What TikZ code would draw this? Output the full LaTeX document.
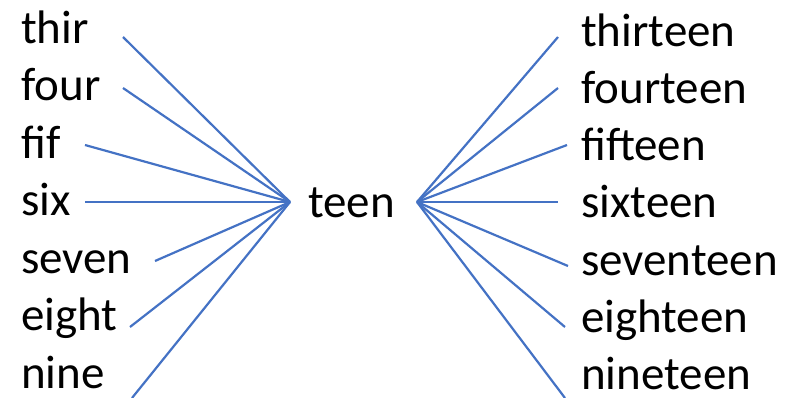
\documentclass[tikz,border=0pt]{standalone}
\usepackage{fontspec}
\setmainfont{Carlito}
\definecolor{linkblue}{HTML}{4472C4}
\newcommand{\wordfont}{\fontsize{47}{56}\selectfont}
\tikzset{
    word/.style={anchor=base west, inner sep=0pt, font=\wordfont},
    link/.style={draw=linkblue, line width=2.2pt}
}
\begin{document}
\begin{tikzpicture}[x=1pt,y=-1pt]
                \useasboundingbox (0,0) rectangle (790,397);
                % left column
                \node[word] (thir)  at (21,43)  {thir};
                \node[word] (four)  at (21,100) {four};
                \node[word] (fif)   at (21,158) {fif};
                \node[word] (six)   at (21,215) {six};
                \node[word] (seven) at (21,273) {seven};
                \node[word] (eight) at (21,330) {eight};
                \node[word] (nine)  at (21,388) {nine};
                % middle
                \node[word] (teen)  at (308,217) {teen};
                \coordinate (teen-in)  at (290,202);
                \coordinate (teen-out) at (417,202);
                % right column
                \node[word] (thirteen)  at (581,46)  {thirteen};
                \node[word] (fourteen)  at (581,103) {fourteen};
                \node[word] (fifteen)   at (581,160) {fifteen};
                \node[word] (sixteen)   at (581,217) {sixteen};
                \node[word] (seventeen) at (581,275) {seventeen};
                \node[word] (eighteen)  at (581,332) {eighteen};
                \node[word] (nineteen)  at (581,389) {nineteen};
                % line ends
                \coordinate (thir-end)  at (123,37);
                \coordinate (four-end)  at (123,88);
                \coordinate (fif-end)   at (85,145);
                \coordinate (six-end)   at (85,202);
                \coordinate (seven-end) at (155,261);
                \coordinate (eight-end) at (130,327);
                \coordinate (nine-end)  at (132,398);
                \coordinate (thirteen-end)  at (558,37);
                \coordinate (fourteen-end)  at (558,88);
                \coordinate (fifteen-end)   at (567,145);
                \coordinate (sixteen-end)   at (558,202);
                \coordinate (seventeen-end) at (568,266);
                \coordinate (eighteen-end)  at (565,327);
                \coordinate (nineteen-end)  at (565,398);
                % links
                \draw[link] (thir-end) -- (teen-in);
                \draw[link] (four-end) -- (teen-in);
                \draw[link] (fif-end) -- (teen-in);
                \draw[link] (six-end) -- (teen-in);
                \draw[link] (seven-end) -- (teen-in);
                \draw[link] (eight-end) -- (teen-in);
                \draw[link] (nine-end) -- (teen-in);
                \draw[link] (teen-out) -- (thirteen-end);
                \draw[link] (teen-out) -- (fourteen-end);
                \draw[link] (teen-out) -- (fifteen-end);
                \draw[link] (teen-out) -- (sixteen-end);
                \draw[link] (teen-out) -- (seventeen-end);
                \draw[link] (teen-out) -- (eighteen-end);
                \draw[link] (teen-out) -- (nineteen-end);
\end{tikzpicture}
\end{document}
